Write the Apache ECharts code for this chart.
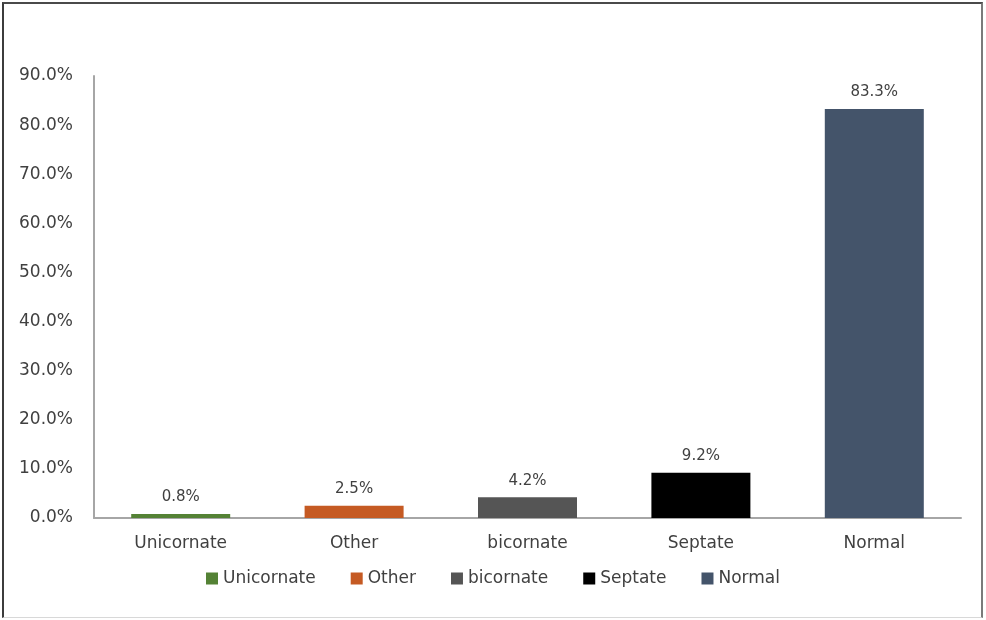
<!DOCTYPE html>
<html><head><meta charset="utf-8">
<script src="https://cdn.jsdelivr.net/npm/echarts@6/dist/echarts.min.js"></script>
<style>
html,body{margin:0;padding:0;background:#fff;}
#frame{position:absolute;left:2px;top:2px;width:981px;height:616px;border-left:2px solid #3c3c3c;border-top:2px solid #4a4a4a;border-right:2px solid #7a7a7a;border-bottom:1px solid #d8d8d8;box-sizing:border-box;pointer-events:none;z-index:2;}
#chart{position:absolute;left:0;top:0;width:986px;height:620px;}
</style></head>
<body>
<div id="chart"></div>
<div id="frame"></div>
<script>
const categories = ["Unicornate", "Other", "bicornate", "Septate", "Normal"];
const values = [0.8, 2.5, 4.2, 9.2, 83.3];
const colors = ["#548235", "#c55a23", "#555555", "#000000", "#44546a"];
const yTicks = [0, 10, 20, 30, 40, 50, 60, 70, 80, 90];

const chart = echarts.init(document.getElementById('chart'));
const font = "'DejaVu Sans', 'Liberation Sans', sans-serif";
const series = categories.map((name, i) => ({
  name: name,
  type: 'bar',
  stack: 'all',
  barWidth: 99,
  itemStyle: { color: colors[i] },
  label: {
    show: true, position: 'top', distance: 9,
    color: '#404040', fontSize: 15, fontFamily: font,
    formatter: p => p.value.toFixed(1) + '%'
  },
  data: categories.map((c, j) => j === i ? values[i] : null)
}));

chart.setOption({
  animation: false,
  grid: { left: 94, right: 25, top: 76, bottom: 102 },
  legend: {
    data: categories,
    bottom: 28,
    left: 'center',
    itemWidth: 12, itemHeight: 12, itemGap: 35,
    icon: 'rect',
    textStyle: { color: '#404040', fontSize: 17, fontFamily: font }
  },
  xAxis: {
    type: 'category',
    data: categories,
    axisLine: { lineStyle: { color: '#a6a6a6', width: 2 } },
    axisTick: { show: false },
    axisLabel: { color: '#404040', fontSize: 17, fontFamily: font, margin: 17 }
  },
  yAxis: {
    type: 'value',
    min: 0, max: yTicks[yTicks.length - 1], interval: 10,
    axisLine: { show: true, lineStyle: { color: '#a6a6a6', width: 2 } },
    axisTick: { show: false },
    splitLine: { show: false },
    axisLabel: { color: '#404040', fontSize: 17, fontFamily: font, margin: 21, formatter: v => v.toFixed(1) + '%' }
  },
  series: series
});
</script>
</body></html>
